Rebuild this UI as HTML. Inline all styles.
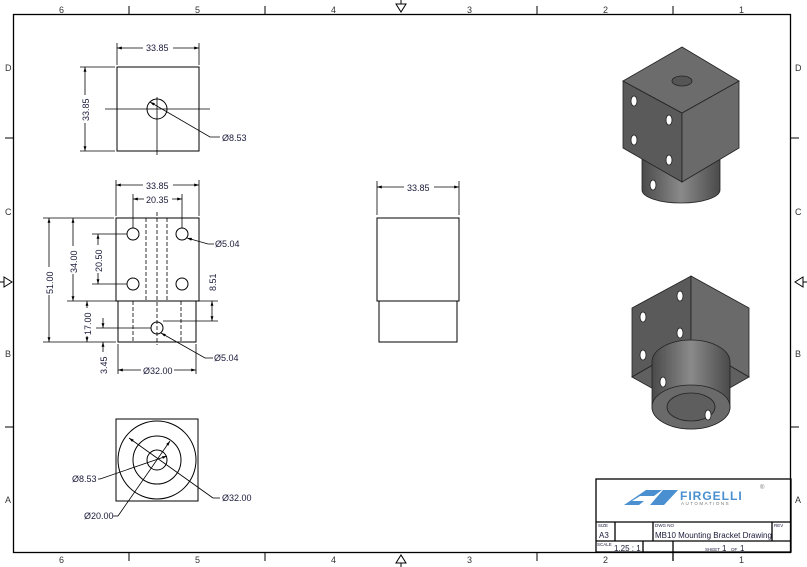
<!DOCTYPE html>
<html><head><meta charset="utf-8"><style>
html,body{margin:0;padding:0;background:#fff}
svg{display:block}
text{font-family:"Liberation Sans",sans-serif;font-size:9px;fill:#1a1a3a}
.z{font-size:9px;fill:#333}
.l{stroke:#000;stroke-width:1;fill:none}
.t{stroke:#000;stroke-width:1.3;fill:none}
.d{stroke:#000;stroke-width:0.8;fill:none}
.h{stroke:#000;stroke-width:0.8;fill:none;stroke-dasharray:4,2}
</style></head><body>
<svg width="807" height="567" viewBox="0 0 807 567" xmlns="http://www.w3.org/2000/svg">
<defs>
<marker id="a" viewBox="0 0 10 10" refX="10" refY="5" markerWidth="6" markerHeight="6" orient="auto-start-reverse"><path d="M0,2 L10,5 L0,8z" fill="#000"/></marker>
<linearGradient id="cyl" x1="0" x2="1"><stop offset="0" stop-color="#4a4a4a"/><stop offset="0.5" stop-color="#8a8a8a"/><stop offset="1" stop-color="#4a4a4a"/></linearGradient>
</defs>
<!-- frame -->
<rect x="13.5" y="14.5" width="777" height="538" class="t"/>
<g class="l">
<line x1="129" y1="6" x2="129" y2="14"/><line x1="265" y1="6" x2="265" y2="14"/><line x1="537" y1="6" x2="537" y2="14"/><line x1="673" y1="6" x2="673" y2="14"/>
<line x1="129" y1="553" x2="129" y2="561"/><line x1="265" y1="553" x2="265" y2="561"/><line x1="537" y1="553" x2="537" y2="561"/><line x1="673" y1="553" x2="673" y2="561"/>
<line x1="5" y1="138" x2="13" y2="138"/><line x1="5" y1="427" x2="13" y2="427"/>
<line x1="791" y1="138" x2="799" y2="138"/><line x1="791" y1="427" x2="799" y2="427"/>
<path d="M396,4 L406,4 L401,12z M401,0 V4"/>
<path d="M396,563 L406,563 L401,555z M401,567 V563"/>
<path d="M4,277 L4,287 L12,282z M0,282 H4"/>
<path d="M803,277 L803,287 L795,282z M807,282 H803"/>
</g>
<text class="z" x="59" y="13">6</text><text class="z" x="195" y="13">5</text><text class="z" x="331" y="13">4</text><text class="z" x="467" y="13">3</text><text class="z" x="603" y="13">2</text><text class="z" x="739" y="13">1</text>
<text class="z" x="59" y="563">6</text><text class="z" x="195" y="563">5</text><text class="z" x="331" y="563">4</text><text class="z" x="467" y="563">3</text><text class="z" x="603" y="563">2</text><text class="z" x="739" y="563">1</text>
<text class="z" x="5" y="71">D</text><text class="z" x="5" y="215">C</text><text class="z" x="5" y="357">B</text><text class="z" x="5" y="503">A</text>
<text class="z" x="795" y="71">D</text><text class="z" x="795" y="215">C</text><text class="z" x="795" y="357">B</text><text class="z" x="795" y="503">A</text>

<!-- top view -->
<rect x="117" y="67" width="82" height="84" class="l"/>
<circle cx="157" cy="109" r="10" class="l"/>
<line x1="105" y1="109" x2="210" y2="109" class="d"/><line x1="157" y1="97" x2="157" y2="155" class="d"/>
<line x1="117" y1="43" x2="117" y2="65" class="d"/><line x1="199" y1="43" x2="199" y2="65" class="d"/>
<line x1="117" y1="48" x2="199" y2="48" class="d" marker-start="url(#a)" marker-end="url(#a)"/>
<rect x="143" y="42" width="30" height="10" fill="#fff"/><text x="146" y="51">33.85</text>
<line x1="80" y1="67" x2="115" y2="67" class="d"/><line x1="80" y1="151" x2="115" y2="151" class="d"/>
<line x1="85" y1="67" x2="85" y2="151" class="d" marker-start="url(#a)" marker-end="url(#a)"/>
<rect x="80" y="95" width="10" height="28" fill="#fff"/><text transform="translate(89,121) rotate(-90)">33.85</text>
<path d="M150,102 L210,137 H220" class="d" marker-start="url(#a)"/>
<text x="222" y="141">Ø8.53</text>

<!-- front view -->
<rect x="116" y="218" width="83" height="83" class="l"/>
<rect x="118" y="301" width="78" height="41" class="l"/>
<line x1="146" y1="218" x2="146" y2="301" class="h"/><line x1="167" y1="218" x2="167" y2="301" class="h"/>
<line x1="157" y1="212" x2="157" y2="345" class="h" stroke-dasharray="8,2,2,2"/>
<line x1="133" y1="301" x2="133" y2="342" class="h"/><line x1="181" y1="301" x2="181" y2="342" class="h"/>
<circle cx="133" cy="234" r="6" class="l"/><circle cx="182" cy="234" r="6" class="l"/>
<circle cx="133" cy="284" r="6" class="l"/><circle cx="182" cy="284" r="6" class="l"/>
<circle cx="157" cy="328" r="6" class="l"/>
<line x1="116" y1="180" x2="116" y2="216" class="d"/><line x1="199" y1="180" x2="199" y2="216" class="d"/>
<line x1="116" y1="185" x2="199" y2="185" class="d" marker-start="url(#a)" marker-end="url(#a)"/>
<rect x="143" y="180" width="30" height="10" fill="#fff"/><text x="146" y="189">33.85</text>
<line x1="133" y1="194" x2="133" y2="228" class="d"/><line x1="182" y1="194" x2="182" y2="228" class="d"/>
<line x1="133" y1="199" x2="182" y2="199" class="d" marker-start="url(#a)" marker-end="url(#a)"/>
<rect x="144" y="194" width="28" height="10" fill="#fff"/><text x="146" y="203">20.35</text>
<line x1="43" y1="218" x2="114" y2="218" class="d"/><line x1="43" y1="342" x2="116" y2="342" class="d"/>
<line x1="49" y1="218" x2="49" y2="342" class="d" marker-start="url(#a)" marker-end="url(#a)"/>
<rect x="44" y="267" width="10" height="28" fill="#fff"/><text transform="translate(53,294) rotate(-90)">51.00</text>
<line x1="67" y1="301" x2="116" y2="301" class="d"/>
<line x1="73" y1="218" x2="73" y2="301" class="d" marker-start="url(#a)" marker-end="url(#a)"/>
<rect x="68" y="246" width="10" height="28" fill="#fff"/><text transform="translate(77,273) rotate(-90)">34.00</text>
<line x1="92" y1="234" x2="127" y2="234" class="d"/><line x1="92" y1="284" x2="127" y2="284" class="d"/>
<line x1="98" y1="234" x2="98" y2="284" class="d" marker-start="url(#a)" marker-end="url(#a)"/>
<rect x="93" y="245" width="10" height="28" fill="#fff"/><text transform="translate(102,272) rotate(-90)">20.50</text>
<line x1="87" y1="301" x2="87" y2="342" class="d" marker-start="url(#a)" marker-end="url(#a)"/>
<rect x="82" y="308" width="10" height="28" fill="#fff"/><text transform="translate(91,335) rotate(-90)">17.00</text>
<line x1="96" y1="328" x2="151" y2="328" class="d"/>
<line x1="103" y1="318" x2="103" y2="328" class="d" marker-end="url(#a)"/>
<line x1="103" y1="352" x2="103" y2="342" class="d" marker-end="url(#a)"/>
<text transform="translate(107,374) rotate(-90)">3.45</text>
<line x1="163" y1="321" x2="218" y2="321" class="d"/>
<line x1="212" y1="301" x2="212" y2="321" class="d" marker-start="url(#a)" marker-end="url(#a)"/>
<line x1="199" y1="301" x2="218" y2="301" class="d"/>
<text transform="translate(216,291) rotate(-90)">8.51</text>
<line x1="118" y1="344" x2="118" y2="374" class="d"/><line x1="196" y1="344" x2="196" y2="374" class="d"/>
<line x1="118" y1="370" x2="196" y2="370" class="d" marker-start="url(#a)" marker-end="url(#a)"/>
<rect x="141" y="365" width="33" height="10" fill="#fff"/><text x="143" y="374">Ø32.00</text>
<path d="M187,238 L208,244 H214" class="d" marker-start="url(#a)"/><text x="215" y="247">Ø5.04</text>
<path d="M161,333 L205,358 H213" class="d" marker-start="url(#a)"/><text x="214" y="361">Ø5.04</text>

<!-- side view -->
<rect x="377" y="218" width="82" height="83" class="l"/>
<path d="M379,301 V342 H457 V301" class="l"/>
<line x1="377" y1="181" x2="377" y2="215" class="d"/><line x1="459" y1="181" x2="459" y2="215" class="d"/>
<line x1="377" y1="187" x2="459" y2="187" class="d" marker-start="url(#a)" marker-end="url(#a)"/>
<rect x="404" y="182" width="30" height="10" fill="#fff"/><text x="407" y="191">33.85</text>

<!-- bottom view -->
<rect x="116" y="419" width="82" height="82" class="l"/>
<circle cx="157" cy="460" r="39" class="l"/><circle cx="157" cy="460" r="24" class="l"/><circle cx="157" cy="460" r="10" class="l"/>
<line x1="129" y1="438" x2="213" y2="498" class="d" marker-start="url(#a)"/><line x1="213" y1="498" x2="220" y2="498" class="d"/>
<line x1="170" y1="441" x2="118" y2="516" class="d" marker-start="url(#a)"/><line x1="118" y1="516" x2="113" y2="516" class="d"/>
<line x1="167" y1="456" x2="100" y2="479" class="d" marker-start="url(#a)"/><line x1="100" y1="479" x2="98" y2="479" class="d"/>
<text x="222" y="501">Ø32.00</text><text x="84" y="519">Ø20.00</text><text x="72" y="482">Ø8.53</text>

<!-- 3D top -->
<g stroke="#222" stroke-width="0.8">
<path d="M642,150 V190 A39,13 0 0 0 720,190 V150z" fill="url(#cyl)"/>
<polygon points="623,81 682,113 682,182 623,148" fill="#5a5a5a"/>
<polygon points="682,113 739,81 739,148 682,182" fill="#6a6a6a"/>
<polygon points="623,81 682,47 739,81 682,113" fill="#6c6c6c"/>
<ellipse cx682="0" cx="682" cy="81" rx="10" ry="5" fill="#555"/>
<g fill="#fff"><ellipse cx="634" cy="101" rx="3" ry="5"/><ellipse cx="669" cy="120" rx="3" ry="5"/><ellipse cx="634" cy="140" rx="3" ry="5"/><ellipse cx="669" cy="160" rx="3" ry="5"/><ellipse cx="653" cy="185" rx="3" ry="5"/></g>
</g>
<!-- 3D bottom -->
<g stroke="#222" stroke-width="0.8">
<polygon points="632,308 691,276 691,343 632,377" fill="#5a5a5a"/>
<polygon points="691,276 749,308 749,377 691,343" fill="#6a6a6a"/>
<polygon points="632,377 691,343 749,377 691,410" fill="#606060"/>
<path d="M652,362 V407 A39,22 0 0 0 730,407 V362 A39,22 0 0 0 652,362z" fill="url(#cyl)"/>
<ellipse cx="691" cy="407" rx="39" ry="22" fill="#6a6a6a"/>
<ellipse cx="691" cy="407" rx="24" ry="14" fill="#5e5e5e"/>
<g fill="#fff"><ellipse cx="680" cy="296" rx="3" ry="5"/><ellipse cx="643" cy="317" rx="3" ry="5"/><ellipse cx="680" cy="333" rx="3" ry="5"/><ellipse cx="643" cy="355" rx="3" ry="5"/><ellipse cx="663" cy="382" rx="3" ry="5"/><ellipse cx="708" cy="415" rx="3" ry="5"/></g>
</g>

<!-- title block -->
<g class="t">
<rect x="596" y="479" width="195" height="73"/>
<line x1="596" y1="522" x2="791" y2="522"/><line x1="596" y1="541" x2="791" y2="541"/>
<line x1="615" y1="522" x2="615" y2="541"/><line x1="653" y1="522" x2="653" y2="541"/><line x1="772" y1="522" x2="772" y2="541"/>
<line x1="643" y1="541" x2="643" y2="552"/><line x1="673" y1="541" x2="673" y2="561"/>
</g>
<polygon points="624,505 646,490 662,490 654,496 640,496 632,501 644,501 639,505" fill="#4a8fd0"/>
<polygon points="650,505 663,490 678,490 664,505" fill="#4a8fd0"/>
<text x="680" y="500" style="font-size:12px;fill:#4a8fd0;font-weight:bold;letter-spacing:1px">FIRGELLI</text>
<text x="681" y="505" style="font-size:4.5px;fill:#777;letter-spacing:1.5px">AUTOMATIONS</text>
<text x="760" y="489" style="font-size:6px;fill:#777">®</text>
<text x="598" y="527" style="font-size:4.5px">SIZE</text><text x="599" y="538" style="font-size:8px">A3</text>
<text x="655" y="527" style="font-size:4.5px">DWG NO</text><text x="655" y="538" style="font-size:8px">MB10 Mounting Bracket Drawing</text>
<text x="774" y="527" style="font-size:4.5px">REV</text>
<text x="597" y="546" style="font-size:4.5px">SCALE</text><text x="614" y="551" style="font-size:8px">1.25 : 1</text>
<text x="705" y="551" style="font-size:4.5px">SHEET</text><text x="722" y="551" style="font-size:8px">1</text><text x="731" y="551" style="font-size:4.5px">OF</text><text x="740" y="551" style="font-size:8px">1</text>
</svg>
</body></html>
